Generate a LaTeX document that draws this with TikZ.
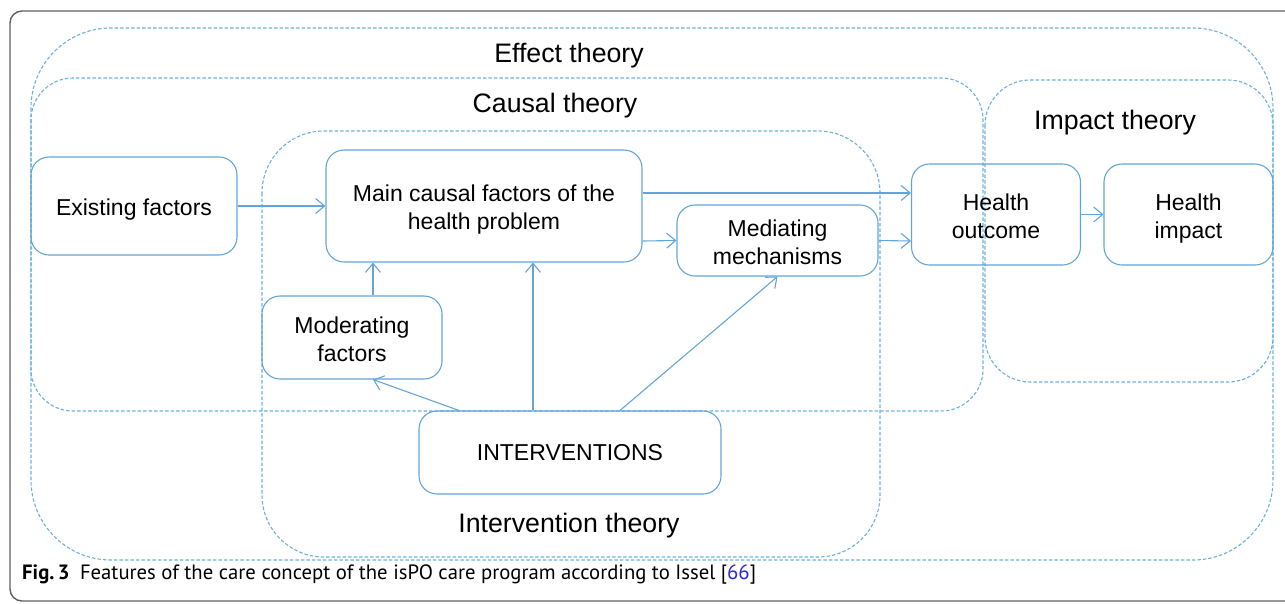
\documentclass[tikz,border=0pt]{standalone}
\usepackage{fontspec}
\setmainfont{Liberation Sans}
\newfontfamily\capfont{PT Sans}
\usetikzlibrary{arrows.meta}
\definecolor{boxblue}{RGB}{100,165,215}
\definecolor{dashblue}{RGB}{110,176,220}
\definecolor{framegray}{RGB}{95,95,95}
\definecolor{refblue}{RGB}{40,40,230}
\newcommand\boxtext[2][-4pt]{\raisebox{#1}[\height][\depth]{\begin{tabular}{@{}c@{}}#2\end{tabular}}}
\tikzset{
  box/.style={draw=boxblue, line width=1.1pt, rounded corners=18pt, align=center,
    font=\fontsize{23}{28}\selectfont, inner sep=0pt},
  region/.style={draw=dashblue, line width=1.1pt, dash pattern=on 3.5pt off 2pt},
  title/.style={font=\fontsize{26.7}{31}\selectfont, inner sep=0pt},
  arr/.style={draw=boxblue, line width=1.1pt, -{Straight Barb[length=9pt,width=15pt,line width=1.1pt]}},
}
\begin{document}
\begin{tikzpicture}[x=1pt,y=-1pt]
\useasboundingbox (0,0) rectangle (1285,603);
% outer frame (cropped)
\begin{scope}
\clip (0,0) rectangle (1285,603);
\draw[framegray, line width=1.4pt, rounded corners=12pt] (10,11) rectangle (1320,601);
\end{scope}
% theory regions
\draw[region, rounded corners=80pt] (31,28) rectangle (1273,560);
\draw[region, rounded corners=42pt] (31,78) rectangle (983,411);
\draw[region, rounded corners=45pt] (985,80) rectangle (1273,382);
\draw[region, rounded corners=62pt] (262,131) rectangle (880,557);
% titles
\node[title] (teff) at (569,55.5) {Effect theory};
\node[title] (tcau) at (555,105.5) {Causal theory};
\node[title] (timp) at (1115,122.5) {Impact theory};
\node[title] (tint) at (569,525.5) {Intervention theory};
% nodes
\node[box, minimum width=206pt, minimum height=98pt] (ex) at (134,206) {\boxtext{Existing factors}};
\node[box, minimum width=316pt, minimum height=112pt] (main) at (484,206) {\boxtext{Main causal factors of the\\health problem}};
\node[box, minimum width=201pt, minimum height=71pt] (med) at (777.5,240.5) {\boxtext{Mediating\\mechanisms}};
\node[box, minimum width=180pt, minimum height=83pt] (mod) at (352,337.5) {\boxtext{Moderating\\factors}};
\node[box, minimum width=302pt, minimum height=83pt] (int) at (570,452.5) {\boxtext[-2pt]{INTERVENTIONS}};
\node[box, minimum width=169pt, minimum height=101pt] (ho) at (996,214.5) {\boxtext{Health\\outcome}};
\node[box, minimum width=169pt, minimum height=101pt] (hi) at (1188.5,214.5) {\boxtext{Health\\impact}};
% connectors
\draw[arr] (ex.east) -- (main.west);
\draw[arr] ([yshift=13pt]main.east) -- ([yshift=21.5pt]ho.west);
\draw[arr] ([yshift=-35pt]main.east) -- (med.west);
\draw[arr] (med.east) -- ([yshift=-26.5pt]ho.west);
\draw[arr] (ho.east) -- (hi.west);
\draw[arr] ([xshift=21pt]mod.north) -- ([xshift=21pt]mod.north |- main.south);
\draw[arr] ([xshift=-37pt]int.north) -- ([xshift=-37pt]int.north |- main.south);
\draw[arr] ([xshift=-111pt]int.north) -- ([xshift=21pt]mod.south);
\draw[arr] ([xshift=50pt]int.north) -- (med.south);
% caption
\node[anchor=west, inner sep=0pt, font=\capfont\fontsize{20.7}{24}\selectfont] (cap) at (22,575)
  {\textbf{Fig.\,3}\enspace Features of the care concept of the isPO care program according to Issel [{\color{refblue}66}]};
\end{tikzpicture}
\end{document}
